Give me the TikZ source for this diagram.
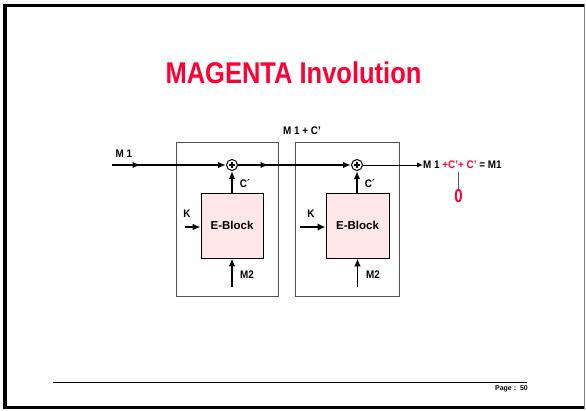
\documentclass[tikz,border=0pt]{standalone}
\usepackage{fontspec}
\setmainfont{Liberation Sans}
\usetikzlibrary{arrows.meta,decorations.markings}
\definecolor{magred}{HTML}{FF0033}
\definecolor{blockpink}{HTML}{FFE6E8}
\definecolor{boxgray}{HTML}{555555}
\begin{document}
\begin{tikzpicture}[x=1pt,y=-1pt,
  lbl/.style={font=\bfseries\fontsize{11}{13}\selectfont, inner sep=0pt, xscale=0.9},
  outer/.style={draw=boxgray, line width=1pt, minimum height=154pt, inner sep=0pt},
  eblock/.style={draw=black, line width=0.8pt, fill=blockpink, minimum width=62pt, minimum height=65pt, inner sep=0pt, font=\bfseries\fontsize{11.5}{13}\selectfont},
  xorc/.style={circle, draw=black, line width=1pt, fill=white, minimum size=11pt, inner sep=0pt,
    path picture={\draw[line width=1.2pt] ([xshift=-3pt]path picture bounding box.center) -- ([xshift=3pt]path picture bounding box.center);
                  \draw[line width=1.2pt] ([yshift=-3pt]path picture bounding box.center) -- ([yshift=3pt]path picture bounding box.center);}},
  tip/.style={-{Latex[length=8pt,width=6.5pt]}},
  thickline/.style={line width=1.8pt},
  midarrow/.style={postaction={decorate}, decoration={markings, mark=at position #1 with {\arrow{Latex[length=8pt,width=6.5pt]}}}}
]
\useasboundingbox (0,0) rectangle (586,410);
\fill[white] (0,0) rectangle (586,410);
% frame
\fill[black] (3,4) rectangle (7,409);
\fill[black] (3,4) rectangle (585,7);
\fill[black] (3,406) rectangle (585,409);
\draw[gray, line width=1pt] (584.5,4) -- (584.5,409);

% title
\node[font=\bfseries\fontsize{30}{34}\selectfont, text=magred, xscale=0.85] (title) at (293.5,73) {MAGENTA Involution};

% outer boxes
\node[outer, minimum width=102pt] (box1) at (227,219) {};
\node[outer, minimum width=104pt] (box2) at (347,219) {};

% E-blocks
\node[eblock] (e1) at (232,225.5) {E-Block};
\node[eblock, minimum width=63pt] (e2) at (357.5,225.5) {E-Block};

% xor circles
\node[xorc] (x1) at (232,165) {};
\node[xorc] (x2) at (357,165) {};

% labels
\node[lbl] (m1) at (124,154) {M 1};
\node[lbl] (m1c) at (302,131) {M 1 + C'};
\node[lbl] (c1) at (245,184) {C´};
\node[lbl] (c2) at (370,184) {C´};
\node[lbl] (k1) at (187,214) {K};
\node[lbl] (k2) at (311,214) {K};
\node[lbl] (m21) at (247,275) {M2};
\node[lbl] (m22) at (373,275) {M2};

% output
\node[lbl, anchor=west] (out) at (423,165) {M 1 \textcolor{magred}{+C'}\textcolor{magred}{+ C'} = M1};
\node[font=\bfseries\fontsize{15}{17}\selectfont, text=magred, inner sep=0pt, yscale=1.25] (zero) at (458.5,196) {0};

% coordinates
\coordinate (in) at (112,165);
\coordinate (kin1) at (185,227);
\coordinate (kin2) at (300,227);
\coordinate (m2in1) at (232,287);
\coordinate (m2in2) at (357.5,287);
\coordinate (ztop) at (458.5,172);

% connectors
\draw[thickline, tip, midarrow=0.25] (in) -- (x1);
\draw[thickline, tip, midarrow=0.27] (x1) -- (x2);
\draw[line width=1pt, -{Latex[length=6pt,width=5pt]}] (x2) -- (out);
\draw[thickline, tip] (e1) -- (x1);
\draw[thickline, tip] (e2.north -| x2) -- (x2);
\draw[line width=1.2pt, tip] (kin1) -- (kin1 -| e1.west);
\draw[line width=2.6pt, -{Latex[length=8pt,width=7.5pt]}] (kin2) -- (kin2 -| e2.west);
\draw[thickline, tip] (m2in1) -- (e1.south);
\draw[thickline, tip] (m2in2) -- (e2.south);
\draw[line width=0.8pt, gray!70!black] (ztop) -- (zero.north);

% footer
\coordinate (fl) at (53,382);
\coordinate (fr) at (527,382);
\draw[line width=0.9pt] (fl) -- (fr);
\node[anchor=east, font=\bfseries\fontsize{7}{8}\selectfont, inner sep=0pt] (page) at (528,389) {Page :\ \ 50};
\end{tikzpicture}
\end{document}
